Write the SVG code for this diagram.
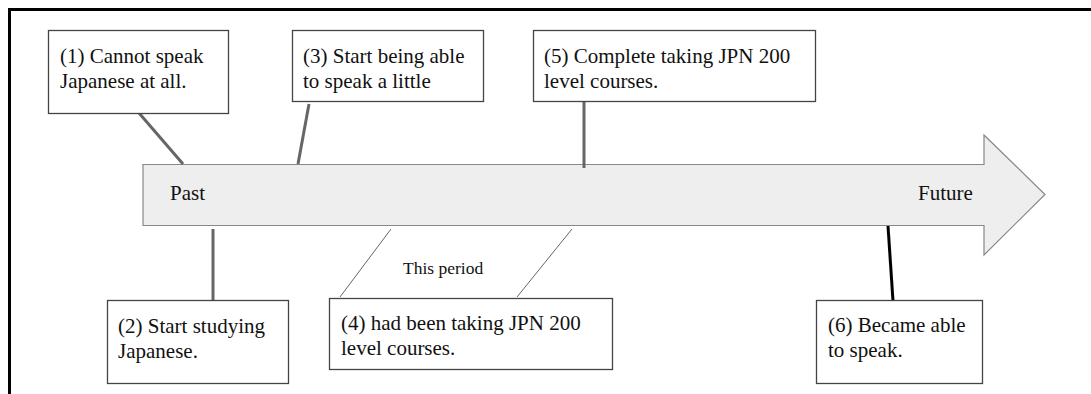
<svg xmlns="http://www.w3.org/2000/svg" width="1091" height="394" viewBox="0 0 1091 394">
<style>
.box{fill:#fff;stroke:#444;stroke-width:1.3;}
.lbl{font-size:21px;fill:#111;}
.conn{stroke:#666;stroke-width:3;fill:none;}
.thin{stroke:#666;stroke-width:1;fill:none;}
</style>
<rect width="1091" height="394" fill="#fff"/>
<path d="M9.5,394 V9.5 H1091" fill="none" stroke="#000" stroke-width="3"/>
<g font-family="Liberation Serif, Tinos, DejaVu Serif, serif">
<g id="timeline">
<polygon points="143,164.5 984,164.5 984,135 1045,194.5 984,255 984,225.5 143,225.5" fill="#eeeeee" stroke="#888" stroke-width="1.2"/>
<text x="170" y="200" class="lbl">Past</text>
<text x="918" y="200" class="lbl">Future</text>
</g>
<g id="connectors">
<line class="conn" x1="139" y1="113" x2="183" y2="164"/>
<line class="conn" x1="309" y1="104" x2="298" y2="164"/>
<line class="conn" x1="584" y1="101" x2="584" y2="168"/>
<line class="conn" x1="213" y1="229" x2="213" y2="300"/>
<line class="thin" x1="391" y1="229" x2="340" y2="297"/>
<line class="thin" x1="572" y1="229" x2="517" y2="297"/>
<line x1="888" y1="226" x2="893" y2="301" stroke="#000" stroke-width="3"/>
</g>
<g id="n1">
<rect class="box" x="48.5" y="30.5" width="180" height="83"/>
<text class="lbl" x="60" y="63">(1) Cannot speak</text>
<text class="lbl" x="60" y="88">Japanese at all.</text>
</g>
<g id="n3">
<rect class="box" x="292.5" y="30.5" width="191" height="71"/>
<text class="lbl" x="303" y="63">(3) Start being able</text>
<text class="lbl" x="303" y="88">to speak a little</text>
</g>
<g id="n5">
<rect class="box" x="533.5" y="30.5" width="282" height="71"/>
<text class="lbl" x="544" y="63">(5) Complete taking JPN 200</text>
<text class="lbl" x="544" y="88">level courses.</text>
</g>
<g id="n2">
<rect class="box" x="107.5" y="300.5" width="181" height="83"/>
<text class="lbl" x="118" y="333">(2) Start studying</text>
<text class="lbl" x="118" y="358">Japanese.</text>
</g>
<g id="n4">
<rect class="box" x="329.5" y="298.5" width="283" height="71"/>
<text class="lbl" x="341" y="330">(4) had been taking JPN 200</text>
<text class="lbl" x="341" y="355">level courses.</text>
</g>
<g id="period">
<text x="403" y="274" font-size="17.5" fill="#111">This period</text>
</g>
<g id="n6">
<rect class="box" x="816.5" y="300.5" width="166" height="83"/>
<text class="lbl" x="828" y="332">(6) Became able</text>
<text class="lbl" x="828" y="357">to speak.</text>
</g>
</g>
</svg>
